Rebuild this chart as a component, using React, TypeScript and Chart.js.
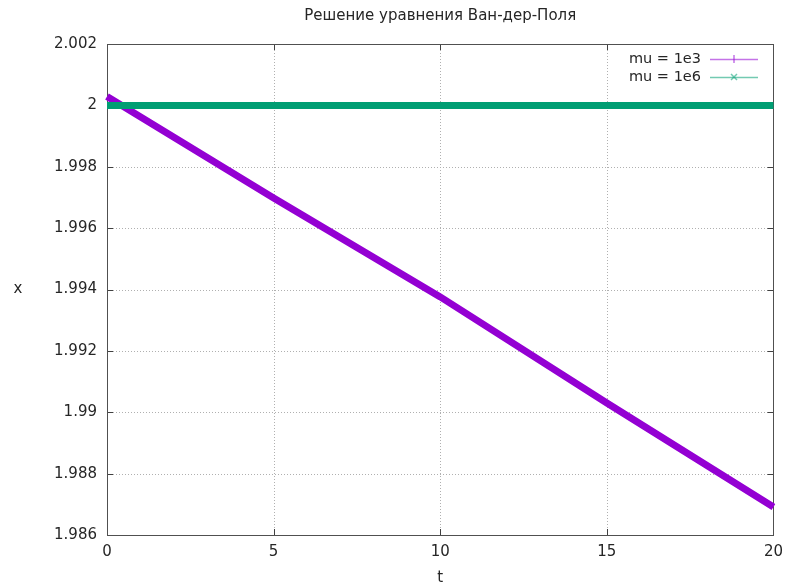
import React, { useEffect, useRef } from "react";
import { Chart, registerables } from "chart.js";

Chart.register(...registerables);

const chartTitle = "Решение уравнения Ван-дер-Поля";
const xAxisLabel = "t";
const yAxisLabel = "x";
const tValues = [0, 5, 10, 15, 20];
const seriesMu1e3 = [2.00029, 1.99698, 1.99376, 1.9903, 1.98691];
const seriesMu1e6 = [2.0, 2.0, 2.0, 2.0, 2.0];
const labelMu1e3 = "mu = 1e3";
const labelMu1e6 = "mu = 1e6";
const colorMu1e3 = "#9400d3";
const colorMu1e6 = "#009e73";
const xMin = 0;
const xMax = 20;
const xStep = 5;
const yMin = 1.986;
const yMax = 2.002;
const yStep = 0.002;

const FONT = "DejaVu Sans";
const TEXT = "#262626";

const decorPlugin = {
  id: "gnuplotDecor",
  beforeDatasetsDraw(chart: any) {
    const { ctx, chartArea: a, scales } = chart;
    const xs = scales.x;
    const ys = scales.y;
    ctx.save();
    // grid
    ctx.strokeStyle = "#b0b0b0";
    ctx.lineWidth = 1;
    ctx.setLineDash([1, 2]);
    xs.ticks.forEach((t: any) => {
      const px = Math.round(xs.getPixelForValue(t.value)) + 0.5;
      if (px <= a.left + 1 || px >= a.right - 1) return;
      ctx.beginPath();
      ctx.moveTo(px, a.top);
      ctx.lineTo(px, a.bottom);
      ctx.stroke();
    });
    ys.ticks.forEach((t: any) => {
      const py = Math.round(ys.getPixelForValue(t.value)) + 0.5;
      if (py <= a.top + 1 || py >= a.bottom - 1) return;
      ctx.beginPath();
      ctx.moveTo(a.left, py);
      ctx.lineTo(a.right, py);
      ctx.stroke();
    });
    ctx.setLineDash([]);
    // inward ticks
    ctx.strokeStyle = "#404040";
    const tl = 6;
    xs.ticks.forEach((t: any) => {
      const px = Math.round(xs.getPixelForValue(t.value)) + 0.5;
      ctx.beginPath();
      ctx.moveTo(px, a.bottom);
      ctx.lineTo(px, a.bottom - tl);
      ctx.moveTo(px, a.top);
      ctx.lineTo(px, a.top + tl);
      ctx.stroke();
    });
    ys.ticks.forEach((t: any) => {
      const py = Math.round(ys.getPixelForValue(t.value)) + 0.5;
      ctx.beginPath();
      ctx.moveTo(a.left, py);
      ctx.lineTo(a.left + tl, py);
      ctx.moveTo(a.right, py);
      ctx.lineTo(a.right - tl, py);
      ctx.stroke();
    });
    // frame
    ctx.strokeStyle = "#505050";
    ctx.lineWidth = 1;
    ctx.strokeRect(Math.round(a.left) + 0.5, Math.round(a.top) + 0.5, Math.round(a.right - a.left), Math.round(a.bottom - a.top));
    ctx.restore();
  },
  afterDraw(chart: any) {
    const { ctx, chartArea: a } = chart;
    ctx.save();
    ctx.fillStyle = TEXT;
    ctx.font = `15px "${FONT}"`;
    ctx.textAlign = "center";
    ctx.textBaseline = "middle";
    ctx.fillText(chartTitle, (a.left + a.right) / 2, 16);
    ctx.fillText(xAxisLabel, (a.left + a.right) / 2, 578);
    ctx.fillText(yAxisLabel, 18, (a.top + a.bottom) / 2);
    // legend
    ctx.font = `14.5px "${FONT}"`;
    const ds = chart.data.datasets;
    const rows = [59, 77];
    ds.forEach((d: any, i: number) => {
      const y = rows[i];
      ctx.fillStyle = TEXT;
      ctx.textAlign = "right";
      ctx.fillText(d.label, 701, y);
      ctx.globalAlpha = 0.55;
      ctx.strokeStyle = d.borderColor;
      ctx.lineWidth = 1.5;
      ctx.beginPath();
      ctx.moveTo(710, y + 0.5);
      ctx.lineTo(758, y + 0.5);
      ctx.stroke();
      ctx.beginPath();
      if (i === 0) {
        ctx.moveTo(734, y - 4);
        ctx.lineTo(734, y + 4);
      } else {
        ctx.moveTo(731, y - 3);
        ctx.lineTo(737, y + 3);
        ctx.moveTo(737, y - 3);
        ctx.lineTo(731, y + 3);
      }
      ctx.stroke();
      ctx.globalAlpha = 1;
    });
    ctx.restore();
  },
};

export default function App() {
  const ref = useRef<HTMLCanvasElement | null>(null);
  useEffect(() => {
    if (!ref.current) return;
    const fmt = (v: number) => Number(Number(v).toFixed(3)).toString();
    const chart = new Chart(ref.current, {
      type: "line",
      data: {
        datasets: [
          {
            label: labelMu1e3,
            data: tValues.map((t, i) => ({ x: t, y: seriesMu1e3[i] })),
            borderColor: colorMu1e3,
            backgroundColor: colorMu1e3,
            borderWidth: 7,
            pointRadius: 0,
            tension: 0,
            order: 1,
            clip: 4,
          },
          {
            label: labelMu1e6,
            data: tValues.map((t, i) => ({ x: t, y: seriesMu1e6[i] })),
            borderColor: colorMu1e6,
            backgroundColor: colorMu1e6,
            borderWidth: 7,
            pointRadius: 0,
            tension: 0,
            order: 0,
            clip: 4,
          },
        ],
      },
      options: {
        animation: false,
        responsive: true,
        maintainAspectRatio: false,
        layout: { padding: { top: 44, right: 14, left: 0, bottom: 0 } },
        plugins: {
          legend: { display: false },
          title: { display: false },
          tooltip: { enabled: false },
        },
        scales: {
          x: {
            type: "linear",
            min: xMin,
            max: xMax,
            grid: { display: false, drawTicks: false },
            border: { display: false },
            ticks: {
              stepSize: xStep,
              padding: 8,
              color: TEXT,
              font: { family: FONT, size: 15 },
              callback: (v: any) => fmt(v),
            },
            afterFit: (s: any) => {
              s.height = 50;
            },
          },
          y: {
            type: "linear",
            min: yMin,
            max: yMax,
            grid: { display: false, drawTicks: false },
            border: { display: false },
            ticks: {
              stepSize: yStep,
              padding: 10,
              color: TEXT,
              font: { family: FONT, size: 15 },
              callback: (v: any) => fmt(v),
            },
            afterFit: (s: any) => {
              s.width = 107;
            },
          },
        },
      },
      plugins: [decorPlugin],
    });
    return () => chart.destroy();
  }, []);
  return (
    <div style={{ position: "fixed", left: 0, top: 0, width: 791, height: 585, background: "#fff" }}>
      <canvas ref={ref} />
    </div>
  );
}
